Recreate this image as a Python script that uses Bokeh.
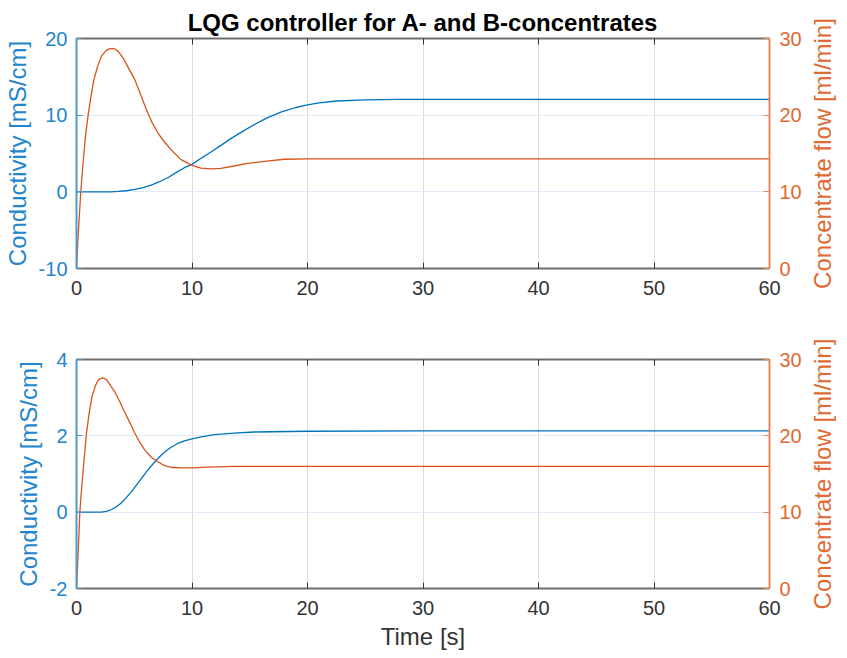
import math
from bokeh.plotting import figure
from bokeh.models import Range1d, LinearAxis, FixedTicker
from bokeh.layouts import column, row
from bokeh.embed import file_html
from bokeh.resources import INLINE

# ---------------- data ----------------
title_text = "LQG controller for A- and B-concentrates"
x_label = "Time [s]"
left_label = "Conductivity [mS/cm]"
right_label = "Concentrate flow [ml/min]"

x_ticks = [0, 10, 20, 30, 40, 50, 60]

# Top panel (A-concentrate)
top_cond_t = [0, 3.0, 3.6, 4.3, 5.03, 5.75, 6.47, 7.18, 7.9, 8.62, 9.34, 10, 10.78,
              11.64, 12.5, 13.36, 14.2, 15.37, 16.5, 17.8, 19, 20, 21, 22.5, 25, 28,
              35, 45, 60]
top_cond = [0, 0, 0.05, 0.14, 0.32, 0.54, 0.88, 1.32, 1.84, 2.5, 3.15, 3.58, 4.37,
            5.2, 6.06, 6.94, 7.72, 8.75, 9.65, 10.45, 11.0, 11.35, 11.6, 11.85, 12.0, 12.05,
            12.07, 12.05, 12.05]
top_flow_t = [0, 0.14, 0.37, 0.57, 0.78, 1.0, 1.24, 1.49, 1.81, 2.16, 2.59, 2.85, 3.1,
              3.35, 3.59, 4.02, 4.45, 5.03, 5.55, 6.03, 6.52, 7.04, 7.61, 8.19, 9.05, 10.0,
              10.78, 11.64, 12.5, 13.65, 14.8, 16.5, 18, 20, 30, 45, 60]
top_flow = [0, 4.2, 10, 13.8, 17.3, 19.9, 22.3, 24.5, 26.3, 27.7, 28.45, 28.65, 28.7,
            28.6, 28.35, 27.5, 26.3, 24.7, 22.7, 20.8, 19.1, 17.7, 16.5, 15.5, 14.2, 13.45,
            13.1, 13.0, 13.06, 13.37, 13.7, 14.0, 14.25, 14.3, 14.3, 14.3, 14.3]
top_left_ticks = [-10, 0, 10, 20]
top_left_range = (-10, 20)

# Bottom panel (B-concentrate)
bot_cond_t = [0, 2.16, 2.59, 3.02, 3.45, 3.88, 4.31, 4.74, 5.17, 5.6, 6.03, 6.47, 6.9,
              7.33, 7.76, 8.19, 8.76, 9.34, 10, 10.78, 11.93, 13.65, 15.37, 20, 30, 45, 60]
bot_cond = [0, 0, 0.02, 0.07, 0.14, 0.24, 0.38, 0.53, 0.70, 0.87, 1.05, 1.21, 1.36,
            1.49, 1.61, 1.70, 1.80, 1.87, 1.92, 1.97, 2.03, 2.07, 2.10, 2.12, 2.13, 2.13, 2.13]
bot_flow_t = [0, 0.14, 0.29, 0.43, 0.63, 0.86, 1.09, 1.35, 1.64, 1.93, 2.24, 2.59, 2.93,
              3.3, 3.74, 4.17, 4.6, 5.03, 5.46, 5.89, 6.47, 7.04, 7.61, 8.33, 9.2, 10,
              11.35, 13.65, 20, 30, 45, 60]
bot_flow = [0, 4.6, 10, 12.9, 16.4, 20.3, 22.9, 25.2, 26.6, 27.4, 27.6, 27.4, 26.6,
            25.8, 24.5, 23.1, 21.8, 20.4, 19.2, 18.2, 17.2, 16.6, 16.1, 15.85, 15.8, 15.8,
            15.9, 16.0, 16.0, 16.0, 16.0, 16.0]
bot_left_ticks = [-2, 0, 2, 4]
bot_left_range = (-2, 4)

right_ticks = [0, 10, 20, 30]
right_range = (0, 30)

# ---------------- style ----------------
BLUE = "#0072BD"
ORANGE = "#D95319"
BLUE_AX = "#4a9ad6"
ORANGE_AX = "#e8875a"
BLUE_TXT = "#2385cd"
ORANGE_TXT = "#e06a32"
BOX = "#6e6e6e"
DARK = "#333333"
FONT = "Liberation Sans"
TICK_FS = "20px"
LABEL_FS = "24px"
LEFT_B = 73
RIGHT_B = 36


def hyphen_labels(ticks):
    return {t: ("-" + str(abs(t)) if t < 0 else str(t)) for t in ticks}


def panel(cond_t, cond, flow_t, flow, yrange, yticks, title, xlabel,
          border_top, frame_h, border_bottom):
    p = figure(frame_width=693, frame_height=frame_h,
               x_range=Range1d(0, 60), y_range=Range1d(*yrange),
               output_backend="svg", toolbar_location=None,
               min_border_left=LEFT_B, min_border_right=RIGHT_B,
               min_border_top=border_top, min_border_bottom=border_bottom)
    p.extra_y_ranges = {"flow": Range1d(*right_range)}
    p.outline_line_color = None
    p.background_fill_color = "white"

    # grids
    p.xgrid.ticker = FixedTicker(ticks=x_ticks)
    p.xgrid.grid_line_color = "#dcdcdc"
    p.xgrid.grid_line_width = 1
    p.ygrid.ticker = FixedTicker(ticks=yticks)
    p.ygrid.grid_line_color = "#dfecf7"
    p.ygrid.grid_line_width = 1.2

    # bottom x axis
    xa = p.xaxis[0]
    xa.ticker = FixedTicker(ticks=x_ticks)
    xa.axis_line_color = BOX
    xa.axis_line_width = 2
    xa.major_tick_line_color = DARK
    xa.major_tick_in = 6
    xa.major_tick_out = 0
    xa.minor_tick_line_color = None
    xa.major_label_text_font = FONT
    xa.major_label_text_font_size = TICK_FS
    xa.major_label_text_color = DARK
    xa.major_label_standoff = 12
    if xlabel:
        xa.axis_label = xlabel
        xa.axis_label_text_font = FONT
        xa.axis_label_text_font_size = LABEL_FS
        xa.axis_label_text_font_style = "normal"
        xa.axis_label_text_color = DARK
        xa.axis_label_standoff = 5

    # top box axis (ticks only)
    ta = LinearAxis(ticker=FixedTicker(ticks=x_ticks))
    ta.axis_line_color = BOX
    ta.axis_line_width = 2
    ta.major_tick_line_color = DARK
    ta.major_tick_in = 6
    ta.major_tick_out = 0
    ta.minor_tick_line_color = None
    ta.major_label_overrides = {t: "" for t in x_ticks}
    ta.major_label_standoff = 0
    p.add_layout(ta, "above")

    # left axis
    la = p.yaxis[0]
    la.ticker = FixedTicker(ticks=yticks)
    la.major_label_overrides = hyphen_labels(yticks)
    la.axis_line_color = BLUE_AX
    la.axis_line_width = 2
    la.major_tick_line_color = BLUE_AX
    la.major_tick_in = 6
    la.major_tick_out = 0
    la.minor_tick_line_color = None
    la.major_label_text_font = FONT
    la.major_label_text_font_size = TICK_FS
    la.major_label_text_color = BLUE_TXT
    la.major_label_standoff = 9
    la.axis_label = left_label
    la.axis_label_text_font = FONT
    la.axis_label_text_font_size = LABEL_FS
    la.axis_label_text_font_style = "normal"
    la.axis_label_text_color = BLUE_TXT
    la.axis_label_standoff = 5

    # right axis (its title is drawn in a side strip so it reads bottom-to-top)
    ra = LinearAxis(y_range_name="flow", ticker=FixedTicker(ticks=right_ticks))
    ra.axis_line_color = ORANGE_AX
    ra.axis_line_width = 2
    ra.major_tick_line_color = ORANGE_AX
    ra.major_tick_in = 6
    ra.major_tick_out = 0
    ra.minor_tick_line_color = None
    ra.major_label_text_font = FONT
    ra.major_label_text_font_size = TICK_FS
    ra.major_label_text_color = ORANGE_TXT
    ra.major_label_standoff = 10
    p.add_layout(ra, "right")

    if title:
        p.title.text = title
        p.title.align = "center"
        p.title.text_font = FONT
        p.title.text_font_size = "24px"
        p.title.text_font_style = "bold"
        p.title.text_color = "black"
        p.title.standoff = 6

    p.line(cond_t, cond, line_color=BLUE, line_width=1.3)
    p.line(flow_t, flow, line_color=ORANGE, line_width=1.3, y_range_name="flow")
    return p


def side_label(border_top, frame_h, border_bottom):
    s = figure(frame_width=1, frame_height=frame_h,
               x_range=Range1d(0, 1), y_range=Range1d(*right_range),
               x_axis_location=None, output_backend="svg", toolbar_location=None,
               min_border_left=0, min_border_right=0,
               min_border_top=border_top, min_border_bottom=border_bottom)
    s.outline_line_color = None
    s.xgrid.visible = False
    s.ygrid.visible = False
    ya = s.yaxis[0]
    ya.ticker = FixedTicker(ticks=[])
    ya.axis_line_color = None
    ya.major_tick_line_color = None
    ya.minor_tick_line_color = None
    ya.major_tick_in = 0
    ya.major_tick_out = 0
    ya.major_label_standoff = 0
    ya.axis_label = right_label
    ya.axis_label_text_font = FONT
    ya.axis_label_text_font_size = LABEL_FS
    ya.axis_label_text_font_style = "normal"
    ya.axis_label_text_color = ORANGE_TXT
    ya.axis_label_standoff = 0
    return s


p1 = panel(top_cond_t, top_cond, top_flow_t, top_flow, top_left_range, top_left_ticks,
           title_text, None, 38, 230, 45)
p2 = panel(bot_cond_t, bot_cond, bot_flow_t, bot_flow, bot_left_range, bot_left_ticks,
           None, x_label, 46, 229, 68)
s1 = side_label(38, 230, 45)
s2 = side_label(46, 229, 68)

layout = row(column(p1, p2, spacing=0), column(s1, s2, spacing=0), spacing=0)
open("out.html", "w").write(file_html(layout, INLINE))
